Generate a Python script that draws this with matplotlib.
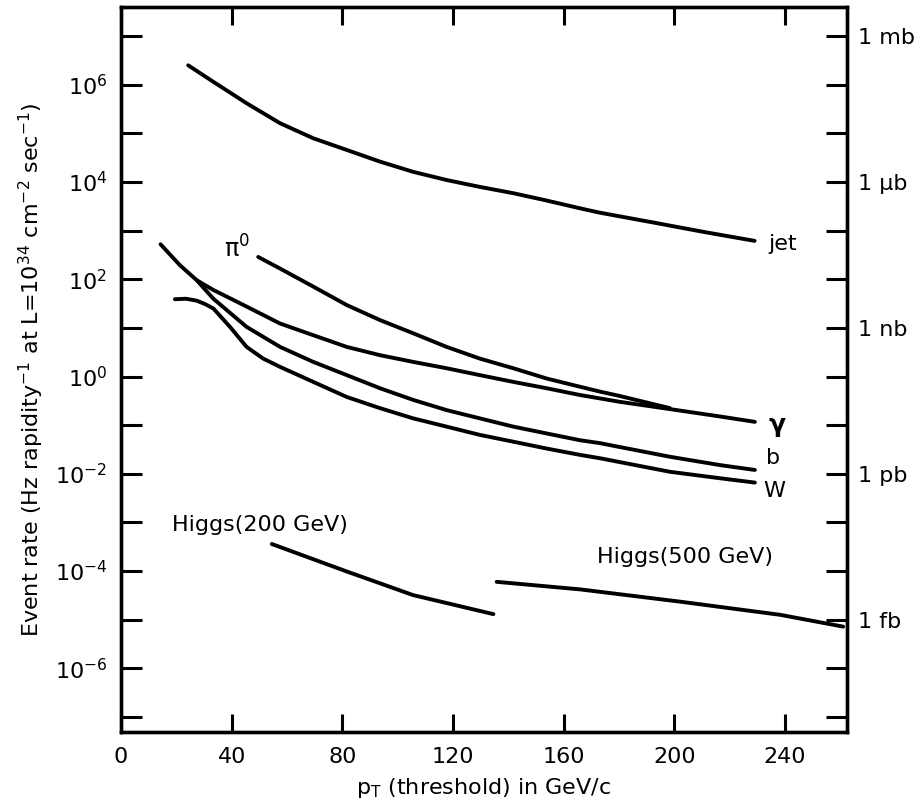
import matplotlib
matplotlib.use("Agg")
import matplotlib.pyplot as plt

# rates in Hz (per unit rapidity) at L = 1e34
jet_pt = [24.3, 33.4, 45.4, 57.5, 69.5, 81.6, 93.6, 105.6, 117.7, 129.7, 141.8, 153.8, 165.9, 173.1, 193, 211, 229]
jet_rate = [2.51e6, 1.15e6, 4.17e5, 1.62e5, 7.94e4, 4.57e4, 2.63e4, 1.62e4, 1.10e4, 7.94e3, 5.89e3,
            4.17e3, 2.88e3, 2.34e3, 1.45e3, 9.33e2, 6.17e2]

pi0_pt = [49.6, 57.5, 69.5, 81.6, 93.6, 105.6, 117.7, 129.7, 141.8, 153.8, 165.9, 173.1, 180.3, 198.4]
pi0_rate = [288, 166, 70.8, 29.5, 14.5, 7.76, 4.07, 2.34, 1.48, 0.912, 0.617, 0.490, 0.398, 0.224]

gamma_pt = [27.4, 33.4, 45.4, 57.5, 69.5, 81.6, 93.6, 105.6, 117.7, 129.7, 141.8, 153.8, 165.9, 173.1,
            180.3, 198.4, 216.5, 229.1]
gamma_rate = [95.5, 60.3, 27.5, 12.3, 7.08, 4.07, 2.75, 2.0, 1.48, 1.07, 0.776, 0.575, 0.417, 0.355,
              0.302, 0.214, 0.151, 0.117]

b_pt = [14.3, 21.3, 27.4, 33.4, 45.4, 57.5, 69.5, 81.6, 93.6, 105.6, 117.7, 129.7, 141.8, 153.8, 165.9,
        173.1, 180.3, 198.4, 216.5, 229.1]
b_rate = [525, 195, 95.5, 39.8, 10.5, 4.07, 2.0, 1.07, 0.575, 0.331, 0.204, 0.138, 0.0933, 0.0676, 0.049,
          0.0427, 0.0355, 0.0224, 0.0151, 0.012]

w_pt = [19.5, 23.5, 27.4, 30.4, 33.4, 39.4, 45.4, 51.4, 57.5, 69.5, 81.6, 93.6, 105.6, 117.7, 129.7, 141.8,
        153.8, 165.9, 173.1, 180.3, 198.4, 216.5, 229.1]
w_rate = [38.9, 39.8, 36.3, 30.9, 25.1, 10.5, 4.07, 2.34, 1.58, 0.776, 0.380, 0.224, 0.138, 0.0933, 0.0631,
          0.0457, 0.0331, 0.0245, 0.0209, 0.0174, 0.011, 0.0081, 0.0066]

higgs200_pt = [54.5, 81.6, 105.6, 134.6]
higgs200_rate = [3.6e-4, 9.8e-5, 3.2e-5, 1.3e-5]

higgs500_pt = [135.8, 165.9, 202, 238.2, 261]
higgs500_rate = [6.0e-5, 4.2e-5, 2.35e-5, 1.26e-5, 7.2e-6]

left_exps = list(range(-7, 8))
left_labels = ['$10^{%d}$' % e if e % 2 == 0 and abs(e) <= 6 else '' for e in left_exps]
right_marks = {7: '1 mb', 4: '1 \u00b5b', 1: '1 nb', -2: '1 pb', -5: '1 fb'}
x_ticks = [0, 40, 80, 120, 160, 200, 240]

FS = 16

def main():
    plt.rcParams['font.family'] = ['DejaVu Sans']
    plt.rcParams['mathtext.fontset'] = 'dejavusans'

    fig = plt.figure(figsize=(9.15, 8.11), dpi=100)
    ax = fig.add_axes([0.1322, 0.0974, 0.7935, 0.894])

    lw = 2.8
    for xs, ys in [(jet_pt, jet_rate), (pi0_pt, pi0_rate), (gamma_pt, gamma_rate),
                   (b_pt, b_rate), (w_pt, w_rate),
                   (higgs200_pt, higgs200_rate), (higgs500_pt, higgs500_rate)]:
        ax.plot(xs, ys, color='black', lw=lw, solid_capstyle='round', solid_joinstyle='round')

    ax.set_yscale('log')
    ax.set_xlim(0, 262.4)
    ax.set_ylim(10 ** -7.31, 10 ** 7.6)

    ax.set_yticks([10.0 ** e for e in left_exps])
    ax.set_yticklabels(left_labels)
    ax.minorticks_off()
    ax.set_xticks(x_ticks)
    ax.set_xticklabels([str(t) for t in x_ticks])

    ax.tick_params(axis='y', direction='in', length=15, width=2.2, labelsize=FS, pad=10, right=False)
    ax.tick_params(axis='x', direction='in', length=13, width=2.2, labelsize=FS, pad=11, top=True)
    for s in ax.spines.values():
        s.set_linewidth(2.4)

    ax2 = ax.twinx()
    ax2.set_yscale('log')
    ax2.set_ylim(ax.get_ylim())
    ax2.set_yticks([10.0 ** e for e in left_exps])
    ax2.set_yticklabels([right_marks.get(e, '') for e in left_exps])
    ax2.minorticks_off()
    ax2.tick_params(axis='y', direction='in', length=15, width=2.2, labelsize=FS, pad=8)
    for s in ax2.spines.values():
        s.set_linewidth(2.4)

    # curve labels
    ax.text(46.5, 10 ** 2.62, '\u03c0$^{0}$', fontsize=FS + 1, ha='right', va='center')
    ax.text(234, 10 ** 2.72, 'jet', fontsize=FS, ha='left', va='center')
    ax.text(234, 10 ** -1.0, '\u03b3', fontsize=FS + 2, ha='left', va='center', fontweight='bold')
    ax.text(233, 10 ** -1.68, 'b', fontsize=FS, ha='left', va='center')
    ax.text(232, 10 ** -2.36, 'W', fontsize=FS, ha='left', va='center')
    ax.text(18.5, 10 ** -3.05, 'Higgs(200 GeV)', fontsize=FS, ha='left', va='center')
    ax.text(172, 10 ** -3.72, 'Higgs(500 GeV)', fontsize=FS, ha='left', va='center')

    ax.set_xlabel('p$_\\mathrm{T}$ (threshold) in GeV/c', fontsize=FS, labelpad=6)
    ax.set_ylabel('Event rate (Hz rapidity$^{-1}$ at L=10$^{34}$ cm$^{-2}$ sec$^{-1}$)',
                  fontsize=FS, labelpad=6)

    fig.savefig('out.png', dpi=100)

if __name__ == "__main__":
    main()
